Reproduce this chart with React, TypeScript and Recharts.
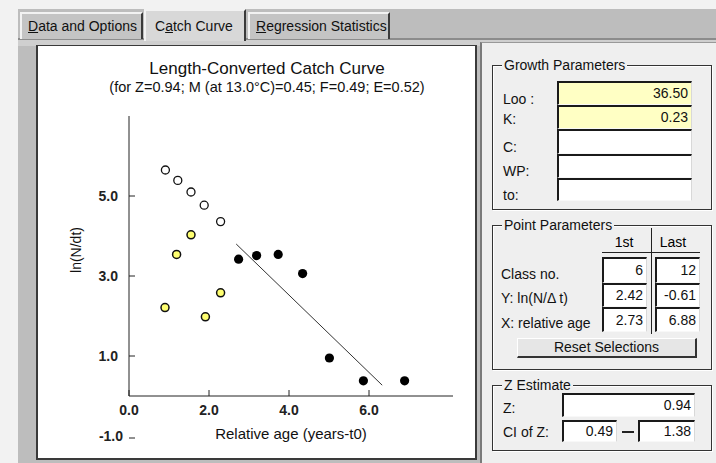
import React from 'react'
import { ComposedChart, Line, Scatter, XAxis, YAxis } from 'recharts'

// excluded points (open circles), upper arm
const excludedAge = [0.91, 1.22, 1.55, 1.88, 2.29]
const excludedLn = [5.65, 5.39, 5.1, 4.77, 4.36]
// excluded points (yellow), lower arm
const lowAge = [0.9, 1.19, 1.55, 1.91, 2.29]
const lowLn = [2.21, 3.54, 4.03, 1.98, 2.58]
// points used in the regression
const usedAge = [2.74, 3.19, 3.73, 4.34, 5.01, 5.86, 6.89]
const usedLn = [3.42, 3.51, 3.54, 3.06, 0.95, 0.38, 0.38]
// regression line end points
const fitAge = [2.68, 6.33]
const fitLn = [3.8, 0.27]

const xTicks = [0, 2, 4, 6]
const yTicks = [-1, 1, 3, 5]

const growthLabels = ['Loo :', 'K:', 'C:', 'WP:', 'to:']
const growthValues = ['36.50', '0.23', '', '', '']
const pointLabels = ['Class no.', 'Y: ln(N/\u0394 t)', 'X: relative age']
const pointFirst = ['6', '2.42', '2.73']
const pointLast = ['12', '-0.61', '6.88']

const toPts = (xs: number[], ys: number[]) => xs.map((x, i) => ({ x, y: ys[i] }))

const FONT = 'Arial, "Liberation Sans", sans-serif'

const XTick = (props: any) => {
  const { x, y, payload } = props
  return (
    <g>
      <line x1={x} x2={x} y1={y - 9} y2={y - 15} stroke="#222" />
      <text x={x} y={y} dy="0.71em" textAnchor="middle" fontSize={14} fontWeight="bold" fontFamily={FONT} fill="#222">
        {payload.value.toFixed(1)}
      </text>
    </g>
  )
}

const YTick = (props: any) => {
  const { x, y, payload } = props
  const neg = payload.value < 0
  return (
    <g>
      <line x1={x + 11} x2={x + 17} y1={neg ? y + 2 : y} y2={neg ? y + 2 : y} stroke="#222" />
      <text x={neg ? x + 5 : x} y={y} dy="0.355em" textAnchor="end" fontSize={14} fontWeight="bold" fontFamily={FONT} fill="#222">
        {payload.value.toFixed(1)}
      </text>
    </g>
  )
}

const openDot = (p: any) => <circle cx={p.cx} cy={p.cy} r={4} fill="#fff" stroke="#111" strokeWidth={1.3} />
const yellowDot = (p: any) => <circle cx={p.cx} cy={p.cy} r={4} fill="#ffff70" stroke="#111" strokeWidth={1.5} />
const blackDot = (p: any) => <circle cx={p.cx} cy={p.cy} r={4.6} fill="#000" />

const abs = (l: number, t: number, w: number, h: number): React.CSSProperties => ({
  position: 'absolute',
  left: l,
  top: t,
  width: w,
  height: h,
  boxSizing: 'border-box',
})

const Field = ({ l, t, w, h, v, bg = '#fff' }: any) => (
  <div
    style={{
      ...abs(l, t, w, h),
      background: bg,
      borderTop: '2px solid #1a1a1a',
      borderLeft: '2px solid #1a1a1a',
      borderRight: '1px solid #d8d8d8',
      borderBottom: '1px solid #f8f8f8',
      textAlign: 'right',
      paddingRight: 3,
      fontSize: 14,
      lineHeight: `${h - 3}px`,
      color: '#111',
    }}
  >
    {v}
  </div>
)

const Label = ({ l, cy, text }: any) => (
  <div style={{ position: 'absolute', left: l, top: cy - 8, fontSize: 14, lineHeight: '16px', color: '#111', whiteSpace: 'nowrap' }}>
    {text}
  </div>
)

const Group = ({ l, t, w, h, title }: any) => (
  <div
    style={{
      ...abs(l, t, w, h),
      border: '1px solid #333',
      boxShadow: '1px 1px 0 #fff, inset 1px 1px 0 #fff',
    }}
  >
    <span style={{ position: 'absolute', left: 9, top: -9, background: '#efefef', padding: '0 2px', fontSize: 14, lineHeight: '16px', color: '#111' }}>
      {title}
    </span>
  </div>
)

const Tab = ({ l, t, w, h, children, sel }: any) => (
  <div
    style={{
      ...abs(l, t, w, h),
      background: sel ? '#d8d8d8' : '#c4c4c4',
      borderTop: '2px solid #f2f2f2',
      borderLeft: '2px solid #f2f2f2',
      borderRight: '2px solid #3a3a3a',
      fontSize: 14,
      lineHeight: sel ? '30px' : '25px',
      paddingLeft: 6,
      color: '#111',
      whiteSpace: 'nowrap',
    }}
  >
    {children}
  </div>
)

export default function App() {
  const excluded = toPts(excludedAge, excludedLn)
  const low = toPts(lowAge, lowLn)
  const used = toPts(usedAge, usedLn)
  const fit = toPts(fitAge, fitLn)

  return (
    <div style={{ ...abs(0, 0, 716, 463), background: '#f2f2f2', overflow: 'hidden', fontFamily: FONT }}>
      <div style={{ ...abs(18, 9, 698, 454), background: '#bdbdbd' }} />
      <div style={{ ...abs(18, 38, 698, 2), background: '#8c8c8c' }} />
      <div style={{ ...abs(18, 40, 698, 6), background: '#cfcfcf' }} />

      <Tab l={20} t={12} w={123} h={27}>
        <u>D</u>ata and Options
      </Tab>
      <Tab l={144} t={9} w={102} h={32} sel>
        <span style={{ paddingLeft: 3 }}>
          C<u>a</u>tch Curve
        </span>
      </Tab>
      <Tab l={248} t={12} w={142} h={27}>
        <u>R</u>egression Statistics
      </Tab>

      {/* chart panel */}
      <div style={{ ...abs(36, 45, 441, 415), background: '#fff', borderLeft: '2px solid #3a3a3a', borderTop: '1px solid #3a3a3a', borderBottom: '2px solid #3a3a3a', borderRight: '2px solid #3a3a3a' }} />
      <div style={{ position: 'absolute', left: 117, top: 59, width: 300, textAlign: 'center', fontSize: 17, lineHeight: '20px', color: '#111' }}>
        Length-Converted Catch Curve
      </div>
      <div style={{ position: 'absolute', left: 67, top: 78, width: 400, textAlign: 'center', fontSize: 14.5, lineHeight: '18px', color: '#111' }}>
        (for Z=0.94; M (at 13.0°C)=0.45; F=0.49; E=0.52)
      </div>
      <div style={{ position: 'absolute', left: 38, top: 47 }}>
        <ComposedChart width={437} height={411} margin={{ top: 69, right: 22, left: 31, bottom: 16 }}>
          <XAxis
            type="number"
            dataKey="x"
            domain={[0, 8.1]}
            ticks={xTicks}
            interval={0}
            tickSize={0}
            tickMargin={9}
            tick={<XTick />}
            stroke="#222"
            height={46}
            label={{ value: 'Relative age (years-t0)', position: 'insideBottom', offset: 3, fontSize: 15, fontFamily: FONT, fill: '#111' }}
          />
          <YAxis
            type="number"
            dataKey="y"
            domain={[0, 7]}
            ticks={yTicks}
            interval={0}
            tickSize={0}
            tickMargin={11}
            tick={<YTick />}
            stroke="#222"
            width={60}
            allowDataOverflow
            label={{
              content: (p: any) => {
                const vb = p.viewBox
                const cx = vb.x + 7
                const cy = vb.y + vb.height / 2 - 6
                return (
                  <text x={cx} y={cy} transform={`rotate(-90 ${cx} ${cy})`} textAnchor="middle" dy="0.355em" fontSize={14} fontFamily={FONT} fill="#111">
                    ln(N/dt)
                  </text>
                )
              },
            }}
          />
          <Line data={fit} dataKey="y" stroke="#333" strokeWidth={1} dot={false} isAnimationActive={false} />
          <Scatter data={excluded} shape={openDot} isAnimationActive={false} />
          <Scatter data={low} shape={yellowDot} isAnimationActive={false} />
          <Scatter data={used} shape={blackDot} isAnimationActive={false} />
        </ComposedChart>
      </div>

      {/* right panel */}
      <div style={{ ...abs(480, 42, 236, 421), background: '#efefef', borderLeft: '2px solid #7a7a7a', borderTop: '1px solid #999' }} />

      <Group l={492} t={65} w={220} h={145} title="Growth Parameters" />
      {growthLabels.map((t, i) => (
        <Label key={t} l={503} cy={[99, 119, 147, 171, 195][i]} text={t} />
      ))}
      {growthValues.map((v, i) => (
        <Field key={i} l={557} t={[81, 105, 129, 154, 178][i]} w={135} h={[24, 24, 25, 24, 23][i]} v={v} bg={i < 2 ? '#ffffc4' : '#fff'} />
      ))}

      <Group l={492} t={225} w={220} h={145} title="Point Parameters" />
      <div style={{ position: 'absolute', left: 604, top: 234, width: 40, textAlign: 'center', fontSize: 14, lineHeight: '16px' }}>1st</div>
      <div style={{ position: 'absolute', left: 653, top: 234, width: 40, textAlign: 'center', fontSize: 14, lineHeight: '16px' }}>Last</div>
      <div style={{ ...abs(651, 228, 1, 106), background: '#222' }} />
      <div style={{ ...abs(602, 252, 98, 1), background: '#222' }} />
      {pointLabels.map((t, i) => (
        <Label key={t} l={501} cy={[274, 298, 323][i]} text={t} />
      ))}
      {pointFirst.map((v, i) => (
        <Field key={'f' + i} l={602} t={[257, 283, 307][i]} w={45} h={[26, 24, 25][i]} v={v} />
      ))}
      {pointLast.map((v, i) => (
        <Field key={'l' + i} l={655} t={[257, 283, 307][i]} w={45} h={[26, 24, 25][i]} v={v} />
      ))}
      <div
        style={{
          ...abs(517, 338, 180, 20),
          background: '#e6e6e6',
          borderTop: '1px solid #fff',
          borderLeft: '1px solid #fff',
          borderRight: '2px solid #333',
          borderBottom: '2px solid #333',
          textAlign: 'center',
          fontSize: 14,
          lineHeight: '17px',
          color: '#111',
        }}
      >
        Reset Selections
      </div>

      <Group l={492} t={385} w={220} h={66} title="Z Estimate" />
      <Label l={503} cy={408} text="Z:" />
      <Field l={562} t={393} w={133} h={24} v="0.94" />
      <Label l={503} cy={432} text="CI of Z:" />
      <Field l={562} t={420} w={55} h={22} v="0.49" />
      <div style={{ ...abs(622, 431, 12, 1.5), background: '#222' }} />
      <Field l={638} t={420} w={57} h={22} v="1.38" />
    </div>
  )
}
